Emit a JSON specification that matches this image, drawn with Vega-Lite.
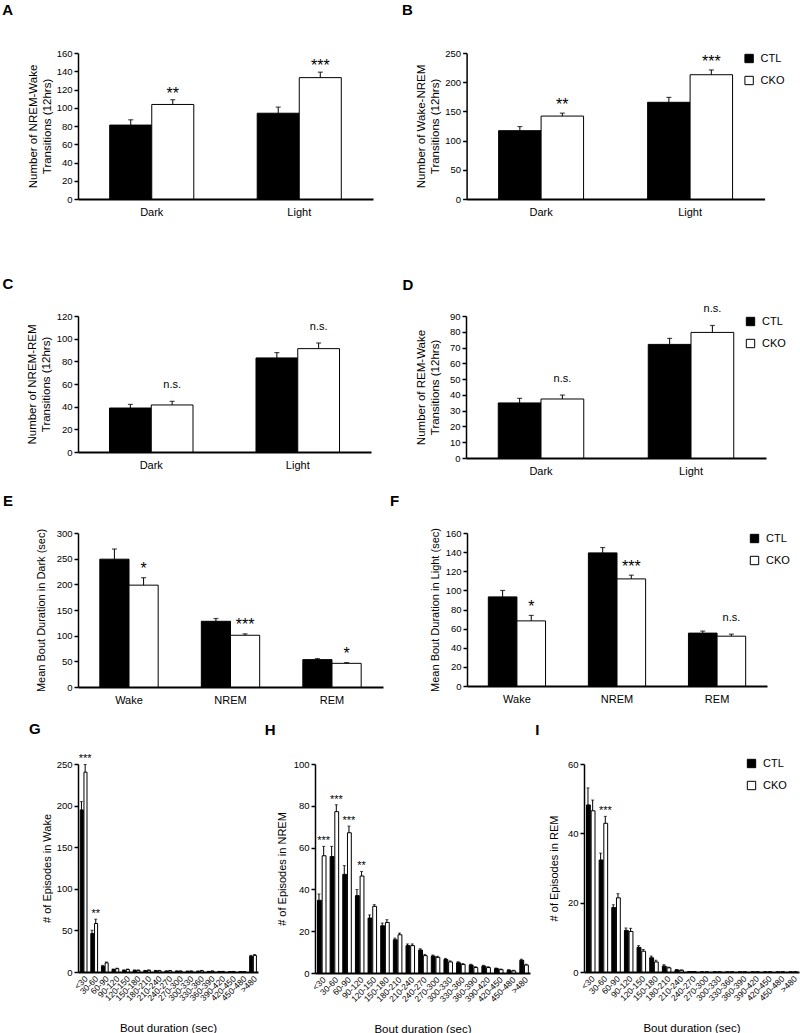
{
  "$schema": "https://vega.github.io/schema/vega-lite/v6.json",
  "background": "white",
  "padding": {"left": 2, "top": 3, "right": 2, "bottom": 0},
  "config": {
    "font": "Liberation Sans",
    "view": {"stroke": null},
    "axis": {"grid": false, "domainColor": "black", "tickColor": "black", "labelColor": "black", "titleColor": "black", "titleFontWeight": "normal", "labelFont": "Liberation Sans", "titleFont": "Liberation Sans"},
    "axisY": {"domainWidth": 1.5, "tickSize": 4, "tickWidth": 1.5, "tickCount": 40, "labelFontSize": 9.5, "labelPadding": 2, "labelOverlap": false, "titleFontSize": 11.5, "titlePadding": 5, "titleLineHeight": 14},
    "axisX": {"domainWidth": 2, "ticks": false, "labelAngle": 0, "labelFontSize": 11, "labelPadding": 7},
    "title": {"anchor": "start", "frame": "bounds", "fontSize": 15, "fontWeight": "bold", "font": "Liberation Sans", "color": "black"},
    "legend": {"orient": "none", "symbolType": "square", "symbolSize": 70, "symbolStrokeColor": "black", "symbolStrokeWidth": 1, "labelFontSize": 11, "rowPadding": 9, "labelOffset": 6, "padding": 0, "labelFont": "Liberation Sans", "labelColor": "black"},
    "bar": {"stroke": "black", "strokeWidth": 1},
    "tick": {"color": "black"},
    "rule": {"color": "black"},
    "text": {"color": "black", "font": "Liberation Sans"}
  },
  "datasets": {
    "A": [
      {"cat": "Dark", "group": "CTL", "value": 81, "hi": 86.8},
      {"cat": "Dark", "group": "CKO", "value": 103.6, "hi": 108.8, "sig": "**"},
      {"cat": "Light", "group": "CTL", "value": 94, "hi": 100.7},
      {"cat": "Light", "group": "CKO", "value": 133, "hi": 139, "sig": "***"}
    ],
    "B": [
      {"cat": "Dark", "group": "CTL", "value": 117, "hi": 124},
      {"cat": "Dark", "group": "CKO", "value": 142, "hi": 147, "sig": "**"},
      {"cat": "Light", "group": "CTL", "value": 165.6, "hi": 174},
      {"cat": "Light", "group": "CKO", "value": 212.8, "hi": 221, "sig": "***"}
    ],
    "C": [
      {"cat": "Dark", "group": "CTL", "value": 38.8, "hi": 42},
      {"cat": "Dark", "group": "CKO", "value": 41.5, "hi": 44.7, "sig": "n.s."},
      {"cat": "Light", "group": "CTL", "value": 83, "hi": 87.7},
      {"cat": "Light", "group": "CKO", "value": 91.2, "hi": 96.2, "sig": "n.s."}
    ],
    "D": [
      {"cat": "Dark", "group": "CTL", "value": 34.9, "hi": 37.8},
      {"cat": "Dark", "group": "CKO", "value": 37.4, "hi": 39.9, "sig": "n.s."},
      {"cat": "Light", "group": "CTL", "value": 72, "hi": 75.8},
      {"cat": "Light", "group": "CKO", "value": 79.6, "hi": 84, "sig": "n.s."}
    ],
    "E": [
      {"cat": "Wake", "group": "CTL", "value": 249, "hi": 268.8},
      {"cat": "Wake", "group": "CKO", "value": 198.4, "hi": 212.9, "sig": "*"},
      {"cat": "NREM", "group": "CTL", "value": 128, "hi": 133.4},
      {"cat": "NREM", "group": "CKO", "value": 100.8, "hi": 103.5, "sig": "***"},
      {"cat": "REM", "group": "CTL", "value": 53.3, "hi": 55.3},
      {"cat": "REM", "group": "CKO", "value": 46.1, "hi": 47.5, "sig": "*"}
    ],
    "F": [
      {"cat": "Wake", "group": "CTL", "value": 93.2, "hi": 99.9},
      {"cat": "Wake", "group": "CKO", "value": 68.1, "hi": 73.8, "sig": "*"},
      {"cat": "NREM", "group": "CTL", "value": 139.2, "hi": 144.8},
      {"cat": "NREM", "group": "CKO", "value": 112, "hi": 115.9, "sig": "***"},
      {"cat": "REM", "group": "CTL", "value": 55.3, "hi": 57.4},
      {"cat": "REM", "group": "CKO", "value": 52.1, "hi": 54.2, "sig": "n.s."}
    ],
    "G": [
      {"cat": "<30", "group": "CTL", "value": 194.8, "hi": 204.8},
      {"cat": "<30", "group": "CKO", "value": 240.2, "hi": 249.4, "sig": "***"},
      {"cat": "30-60", "group": "CTL", "value": 46.3, "hi": 50.2},
      {"cat": "30-60", "group": "CKO", "value": 58.3, "hi": 63.5, "sig": "**"},
      {"cat": "60-90", "group": "CTL", "value": 7, "hi": 8},
      {"cat": "60-90", "group": "CKO", "value": 11, "hi": 12},
      {"cat": "90-120", "group": "CTL", "value": 3, "hi": 3.6},
      {"cat": "90-120", "group": "CKO", "value": 4, "hi": 4.6},
      {"cat": "120-150", "group": "CTL", "value": 2, "hi": 2.5},
      {"cat": "120-150", "group": "CKO", "value": 3, "hi": 3.5},
      {"cat": "150-180", "group": "CTL", "value": 2, "hi": 2.4},
      {"cat": "150-180", "group": "CKO", "value": 2, "hi": 2.4},
      {"cat": "180-210", "group": "CTL", "value": 1.5, "hi": 1.9},
      {"cat": "180-210", "group": "CKO", "value": 2, "hi": 2.5},
      {"cat": "210-240", "group": "CTL", "value": 1.5, "hi": 1.9},
      {"cat": "210-240", "group": "CKO", "value": 1.5, "hi": 1.9},
      {"cat": "240-270", "group": "CTL", "value": 1, "hi": 1.3},
      {"cat": "240-270", "group": "CKO", "value": 1.5, "hi": 1.9},
      {"cat": "270-300", "group": "CTL", "value": 1, "hi": 1.3},
      {"cat": "270-300", "group": "CKO", "value": 1, "hi": 1.3},
      {"cat": "300-330", "group": "CTL", "value": 0.8, "hi": 1.1},
      {"cat": "300-330", "group": "CKO", "value": 1, "hi": 1.3},
      {"cat": "330-360", "group": "CTL", "value": 0.8, "hi": 1.1},
      {"cat": "330-360", "group": "CKO", "value": 1.5, "hi": 1.9},
      {"cat": "360-390", "group": "CTL", "value": 0.5, "hi": 0.8},
      {"cat": "360-390", "group": "CKO", "value": 1, "hi": 1.3},
      {"cat": "390-420", "group": "CTL", "value": 0.5, "hi": 0.8},
      {"cat": "390-420", "group": "CKO", "value": 0.5, "hi": 0.8},
      {"cat": "420-450", "group": "CTL", "value": 0.3, "hi": 0.5},
      {"cat": "420-450", "group": "CKO", "value": 0.5, "hi": 0.7},
      {"cat": "450-480", "group": "CTL", "value": 0.3, "hi": 0.5},
      {"cat": "450-480", "group": "CKO", "value": 0.3, "hi": 0.5},
      {"cat": ">480", "group": "CTL", "value": 19, "hi": 20},
      {"cat": ">480", "group": "CKO", "value": 20, "hi": 21}
    ],
    "H": [
      {"cat": "<30", "group": "CTL", "value": 34.8, "hi": 37.8},
      {"cat": "<30", "group": "CKO", "value": 56.1, "hi": 60.6, "sig": "***"},
      {"cat": "30-60", "group": "CTL", "value": 55.7, "hi": 60.6},
      {"cat": "30-60", "group": "CKO", "value": 77.2, "hi": 80.5, "sig": "***"},
      {"cat": "60-90", "group": "CTL", "value": 47.2, "hi": 51.4},
      {"cat": "60-90", "group": "CKO", "value": 67.1, "hi": 70.3, "sig": "***"},
      {"cat": "90-120", "group": "CTL", "value": 37, "hi": 39.9},
      {"cat": "90-120", "group": "CKO", "value": 46.4, "hi": 48.6, "sig": "**"},
      {"cat": "120-150", "group": "CTL", "value": 26.3, "hi": 27.8},
      {"cat": "120-150", "group": "CKO", "value": 31.9, "hi": 32.7},
      {"cat": "150-180", "group": "CTL", "value": 22.6, "hi": 23.9},
      {"cat": "150-180", "group": "CKO", "value": 24.2, "hi": 25.5},
      {"cat": "180-210", "group": "CTL", "value": 15.9, "hi": 16.7},
      {"cat": "180-210", "group": "CKO", "value": 18.3, "hi": 19.1},
      {"cat": "210-240", "group": "CTL", "value": 13.1, "hi": 13.9},
      {"cat": "210-240", "group": "CKO", "value": 13.1, "hi": 13.9},
      {"cat": "240-270", "group": "CTL", "value": 11, "hi": 11.6},
      {"cat": "240-270", "group": "CKO", "value": 8.3, "hi": 8.9},
      {"cat": "270-300", "group": "CTL", "value": 8.1, "hi": 8.6},
      {"cat": "270-300", "group": "CKO", "value": 7.5, "hi": 8},
      {"cat": "300-330", "group": "CTL", "value": 6.5, "hi": 7},
      {"cat": "300-330", "group": "CKO", "value": 5.3, "hi": 5.8},
      {"cat": "330-360", "group": "CTL", "value": 4.9, "hi": 5.4},
      {"cat": "330-360", "group": "CKO", "value": 4.1, "hi": 4.5},
      {"cat": "360-390", "group": "CTL", "value": 3.8, "hi": 4.2},
      {"cat": "360-390", "group": "CKO", "value": 2.6, "hi": 3},
      {"cat": "390-420", "group": "CTL", "value": 3.3, "hi": 3.7},
      {"cat": "390-420", "group": "CKO", "value": 2.6, "hi": 3},
      {"cat": "420-450", "group": "CTL", "value": 2.1, "hi": 2.4},
      {"cat": "420-450", "group": "CKO", "value": 1.6, "hi": 1.9},
      {"cat": "450-480", "group": "CTL", "value": 1.3, "hi": 1.6},
      {"cat": "450-480", "group": "CKO", "value": 1, "hi": 1.3},
      {"cat": ">480", "group": "CTL", "value": 6.1, "hi": 6.6},
      {"cat": ">480", "group": "CKO", "value": 3.8, "hi": 4.2}
    ],
    "I": [
      {"cat": "<30", "group": "CTL", "value": 48.2, "hi": 53.1},
      {"cat": "<30", "group": "CKO", "value": 46.5, "hi": 49.6},
      {"cat": "30-60", "group": "CTL", "value": 32.3, "hi": 34.3},
      {"cat": "30-60", "group": "CKO", "value": 42.9, "hi": 44.9, "sig": "***"},
      {"cat": "60-90", "group": "CTL", "value": 18.6, "hi": 19.4},
      {"cat": "60-90", "group": "CKO", "value": 21.4, "hi": 22.6},
      {"cat": "90-120", "group": "CTL", "value": 12, "hi": 12.7},
      {"cat": "90-120", "group": "CKO", "value": 11.7, "hi": 12.6},
      {"cat": "120-150", "group": "CTL", "value": 7.1, "hi": 7.6},
      {"cat": "120-150", "group": "CKO", "value": 6, "hi": 6.5},
      {"cat": "150-180", "group": "CTL", "value": 4.1, "hi": 4.6},
      {"cat": "150-180", "group": "CKO", "value": 2.9, "hi": 3.4},
      {"cat": "180-210", "group": "CTL", "value": 1.7, "hi": 2.1},
      {"cat": "180-210", "group": "CKO", "value": 1.2, "hi": 1.4},
      {"cat": "210-240", "group": "CTL", "value": 0.6, "hi": 0.7},
      {"cat": "210-240", "group": "CKO", "value": 0.5, "hi": 0.6},
      {"cat": "240-270", "group": "CTL", "value": 0.1, "hi": 0.15},
      {"cat": "240-270", "group": "CKO", "value": 0.1, "hi": 0.15},
      {"cat": "270-300", "group": "CTL", "value": 0, "hi": 0},
      {"cat": "270-300", "group": "CKO", "value": 0, "hi": 0},
      {"cat": "300-330", "group": "CTL", "value": 0, "hi": 0},
      {"cat": "300-330", "group": "CKO", "value": 0, "hi": 0},
      {"cat": "330-360", "group": "CTL", "value": 0, "hi": 0},
      {"cat": "330-360", "group": "CKO", "value": 0, "hi": 0},
      {"cat": "360-390", "group": "CTL", "value": 0, "hi": 0},
      {"cat": "360-390", "group": "CKO", "value": 0, "hi": 0},
      {"cat": "390-420", "group": "CTL", "value": 0, "hi": 0},
      {"cat": "390-420", "group": "CKO", "value": 0, "hi": 0},
      {"cat": "420-450", "group": "CTL", "value": 0, "hi": 0},
      {"cat": "420-450", "group": "CKO", "value": 0, "hi": 0},
      {"cat": "450-480", "group": "CTL", "value": 0, "hi": 0},
      {"cat": "450-480", "group": "CKO", "value": 0, "hi": 0},
      {"cat": ">480", "group": "CTL", "value": 0, "hi": 0},
      {"cat": ">480", "group": "CKO", "value": 0, "hi": 0}
    ]
  },
  "resolve": {"scale": {"fill": "independent", "xOffset": "independent"}, "legend": {"fill": "independent"}},
  "columns": 1,
  "align": "none",
  "spacing": 60,
  "concat": [
    {
      "resolve": {"scale": {"fill": "independent", "xOffset": "independent"}, "legend": {"fill": "independent"}},
      "spacing": 28.6,
      "hconcat": [
        {
          "width": 295, "height": 146,
          "title": {"text": "A", "offset": 30, "dx": -25},
          "data": {"name": "A"},
          "encoding": {
            "x": {"field": "cat", "type": "nominal", "sort": ["Dark", "Light"], "scale": {"paddingInner": 0.43, "paddingOuter": 0.215}, "axis": {"title": null}},
            "xOffset": {"field": "group", "type": "nominal", "sort": ["CTL", "CKO"]}
          },
          "layer": [
            {"mark": "bar", "encoding": {
              "y": {"field": "value", "type": "quantitative", "scale": {"domain": [0, 160], "nice": false}, "axis": {"values": [0, 20, 40, 60, 80, 100, 120, 140, 160], "title": ["Number of NREM-Wake", "Transitions (12hrs)"], "titlePadding": 4}},
              "fill": {"field": "group", "type": "nominal", "scale": {"domain": ["CTL", "CKO"], "range": ["black", "white"]}, "legend": null}}},
            {"mark": {"type": "rule", "strokeWidth": 1}, "encoding": {"y": {"field": "value", "type": "quantitative"}, "y2": {"field": "hi"}}},
            {"mark": {"type": "tick", "size": 5, "thickness": 1.2}, "encoding": {"y": {"field": "hi", "type": "quantitative"}}},
            {"transform": [{"filter": "datum.sig && datum.sig != 'n.s.'"}], "mark": {"type": "text", "fontSize": 16, "baseline": "alphabetic", "dy": -1}, "encoding": {"y": {"field": "hi", "type": "quantitative"}, "text": {"field": "sig"}}}
          ]
        },
        {
          "width": 298, "height": 146,
          "title": {"text": "B", "offset": 30, "dx": -13},
          "data": {"name": "B"},
          "encoding": {
            "x": {"field": "cat", "type": "nominal", "sort": ["Dark", "Light"], "scale": {"paddingInner": 0.43, "paddingOuter": 0.215}, "axis": {"title": null}},
            "xOffset": {"field": "group", "type": "nominal", "sort": ["CTL", "CKO"]}
          },
          "layer": [
            {"mark": "bar", "encoding": {
              "y": {"field": "value", "type": "quantitative", "scale": {"domain": [0, 250], "nice": false}, "axis": {"values": [0, 50, 100, 150, 200, 250], "title": ["Number of Wake-NREM", "Transitions (12hrs)"], "titlePadding": 4.65}},
              "fill": {"field": "group", "type": "nominal", "sort": ["CTL", "CKO"], "scale": {"domain": ["CTL", "CKO"], "range": ["black", "white"]}, "legend": {"title": null, "orient": "none", "legendX": 277, "legendY": 0}}}},
            {"mark": {"type": "rule", "strokeWidth": 1}, "encoding": {"y": {"field": "value", "type": "quantitative"}, "y2": {"field": "hi"}}},
            {"mark": {"type": "tick", "size": 5, "thickness": 1.2}, "encoding": {"y": {"field": "hi", "type": "quantitative"}}},
            {"transform": [{"filter": "datum.sig && datum.sig != 'n.s.'"}], "mark": {"type": "text", "fontSize": 16, "baseline": "alphabetic", "dy": -3}, "encoding": {"y": {"field": "hi", "type": "quantitative"}, "text": {"field": "sig"}}}
          ]
        }
      ]
    },
    {
      "resolve": {"scale": {"fill": "independent", "xOffset": "independent"}, "legend": {"fill": "independent"}},
      "columns": 1,
      "align": "none",
      "spacing": 16,
      "concat": [
        {
          "resolve": {"scale": {"fill": "independent", "xOffset": "independent"}, "legend": {"fill": "independent"}},
          "columns": 1,
          "align": "none",
          "spacing": 17,
          "concat": [
            {
              "resolve": {"scale": {"fill": "independent", "xOffset": "independent"}, "legend": {"fill": "independent"}},
              "spacing": 31,
              "hconcat": [
                {
                  "width": 293, "height": 136,
                  "title": {"text": "C", "offset": 19, "dx": -24},
                  "data": {"name": "C"},
                  "encoding": {
                    "x": {"field": "cat", "type": "nominal", "sort": ["Dark", "Light"], "scale": {"paddingInner": 0.43, "paddingOuter": 0.215}, "axis": {"title": null}},
                    "xOffset": {"field": "group", "type": "nominal", "sort": ["CTL", "CKO"]}
                  },
                  "layer": [
                    {"mark": "bar", "encoding": {
                      "y": {"field": "value", "type": "quantitative", "scale": {"domain": [0, 120], "nice": false}, "axis": {"values": [0, 20, 40, 60, 80, 100, 120], "title": ["Number of NREM-REM", "Transitions (12hrs)"], "titlePadding": 4.65}},
                      "fill": {"field": "group", "type": "nominal", "scale": {"domain": ["CTL", "CKO"], "range": ["black", "white"]}, "legend": null}}},
                    {"mark": {"type": "rule", "strokeWidth": 1}, "encoding": {"y": {"field": "value", "type": "quantitative"}, "y2": {"field": "hi"}}},
                    {"mark": {"type": "tick", "size": 5, "thickness": 1.2}, "encoding": {"y": {"field": "hi", "type": "quantitative"}}},
                    {"transform": [{"filter": "datum.sig == 'n.s.'"}], "mark": {"type": "text", "fontSize": 11, "baseline": "alphabetic", "dy": -13}, "encoding": {"y": {"field": "hi", "type": "quantitative"}, "text": {"field": "sig"}}}
                  ]
                },
                {
                  "width": 300, "height": 142,
                  "title": {"text": "D", "offset": 10.5, "dx": -13},
                  "data": {"name": "D"},
                  "encoding": {
                    "x": {"field": "cat", "type": "nominal", "sort": ["Dark", "Light"], "scale": {"paddingInner": 0.43, "paddingOuter": 0.215}, "axis": {"title": null}},
                    "xOffset": {"field": "group", "type": "nominal", "sort": ["CTL", "CKO"]}
                  },
                  "layer": [
                    {"mark": "bar", "encoding": {
                      "y": {"field": "value", "type": "quantitative", "scale": {"domain": [0, 90], "nice": false}, "axis": {"values": [0, 10, 20, 30, 40, 50, 60, 70, 80, 90], "title": ["Number of REM-Wake", "Transitions (12hrs)"], "titlePadding": 8.9}},
                      "fill": {"field": "group", "type": "nominal", "sort": ["CTL", "CKO"], "scale": {"domain": ["CTL", "CKO"], "range": ["black", "white"]}, "legend": {"title": null, "orient": "none", "legendX": 279, "legendY": 0}}}},
                    {"mark": {"type": "rule", "strokeWidth": 1}, "encoding": {"y": {"field": "value", "type": "quantitative"}, "y2": {"field": "hi"}}},
                    {"mark": {"type": "tick", "size": 5, "thickness": 1.2}, "encoding": {"y": {"field": "hi", "type": "quantitative"}}},
                    {"transform": [{"filter": "datum.sig == 'n.s.'"}], "mark": {"type": "text", "fontSize": 11, "baseline": "alphabetic", "dy": -13}, "encoding": {"y": {"field": "hi", "type": "quantitative"}, "text": {"field": "sig"}}}
                  ]
                }
              ]
            },
            {
              "resolve": {"scale": {"fill": "independent", "xOffset": "independent"}, "legend": {"fill": "independent"}},
              "spacing": 6,
              "hconcat": [
                {
                  "width": 305, "height": 154,
                  "title": {"text": "E", "offset": 19, "dx": -33},
                  "data": {"name": "E"},
                  "encoding": {
                    "x": {"field": "cat", "type": "nominal", "sort": ["Wake", "NREM", "REM"], "scale": {"paddingInner": 0.425, "paddingOuter": 0.215}, "axis": {"title": null}},
                    "xOffset": {"field": "group", "type": "nominal", "sort": ["CTL", "CKO"]}
                  },
                  "layer": [
                    {"mark": "bar", "encoding": {
                      "y": {"field": "value", "type": "quantitative", "scale": {"domain": [0, 300], "nice": false}, "axis": {"values": [0, 50, 100, 150, 200, 250, 300], "title": "Mean Bout Duration in Dark (sec)", "titleFontSize": 11, "titlePadding": 9.15}},
                      "fill": {"field": "group", "type": "nominal", "scale": {"domain": ["CTL", "CKO"], "range": ["black", "white"]}, "legend": null}}},
                    {"mark": {"type": "rule", "strokeWidth": 1}, "encoding": {"y": {"field": "value", "type": "quantitative"}, "y2": {"field": "hi"}}},
                    {"mark": {"type": "tick", "size": 5, "thickness": 1.2}, "encoding": {"y": {"field": "hi", "type": "quantitative"}}},
                    {"transform": [{"filter": "datum.sig && datum.sig != 'n.s.'"}], "mark": {"type": "text", "fontSize": 16, "baseline": "alphabetic", "dy": -4}, "encoding": {"y": {"field": "hi", "type": "quantitative"}, "text": {"field": "sig"}}}
                  ]
                },
                {
                  "width": 300, "height": 153,
                  "title": {"text": "F", "offset": 19, "dx": -40},
                  "data": {"name": "F"},
                  "encoding": {
                    "x": {"field": "cat", "type": "nominal", "sort": ["Wake", "NREM", "REM"], "scale": {"paddingInner": 0.428, "paddingOuter": 0.213}, "axis": {"title": null}},
                    "xOffset": {"field": "group", "type": "nominal", "sort": ["CTL", "CKO"]}
                  },
                  "layer": [
                    {"mark": "bar", "encoding": {
                      "y": {"field": "value", "type": "quantitative", "scale": {"domain": [0, 160], "nice": false}, "axis": {"values": [0, 20, 40, 60, 80, 100, 120, 140, 160], "title": "Mean Bout Duration in Light (sec)", "titleFontSize": 11, "titlePadding": 4.15}},
                      "fill": {"field": "group", "type": "nominal", "sort": ["CTL", "CKO"], "scale": {"domain": ["CTL", "CKO"], "range": ["black", "white"]}, "legend": {"title": null, "orient": "none", "legendX": 282, "legendY": 0}}}},
                    {"mark": {"type": "rule", "strokeWidth": 1}, "encoding": {"y": {"field": "value", "type": "quantitative"}, "y2": {"field": "hi"}}},
                    {"mark": {"type": "tick", "size": 5, "thickness": 1.2}, "encoding": {"y": {"field": "hi", "type": "quantitative"}}},
                    {"transform": [{"filter": "datum.sig && datum.sig != 'n.s.'"}], "mark": {"type": "text", "fontSize": 16, "baseline": "alphabetic", "dy": -3}, "encoding": {"y": {"field": "hi", "type": "quantitative"}, "text": {"field": "sig"}}},
                    {"transform": [{"filter": "datum.sig == 'n.s.'"}], "mark": {"type": "text", "fontSize": 11, "baseline": "alphabetic", "dy": -13}, "encoding": {"y": {"field": "hi", "type": "quantitative"}, "text": {"field": "sig"}}}
                  ]
                }
              ]
            }
          ]
        },
        {
          "resolve": {"scale": {"fill": "independent", "xOffset": "independent"}, "legend": {"fill": "independent"}},
          "spacing": 5,
          "hconcat": [
            {
              "width": 180, "height": 208,
              "title": {"text": "G", "offset": 16.5, "dx": -12.5},
              "data": {"name": "G"},
              "encoding": {
                "x": {"field": "cat", "type": "nominal", "sort": ["<30", "30-60", "60-90", "90-120", "120-150", "150-180", "180-210", "210-240", "240-270", "270-300", "300-330", "330-360", "360-390", "390-420", "420-450", "450-480", ">480"], "scale": {"paddingInner": 0.3, "paddingOuter": 0.15}, "axis": {"title": "Bout duration (sec)", "labelAngle": -45, "labelFontSize": 8.5, "labelPadding": 2, "titleFontSize": 11.5, "titlePadding": 20}},
                "xOffset": {"field": "group", "type": "nominal", "sort": ["CTL", "CKO"]}
              },
              "layer": [
                {"mark": {"type": "bar", "width": {"band": 0.82}}, "encoding": {
                  "y": {"field": "value", "type": "quantitative", "scale": {"domain": [0, 250], "nice": false}, "axis": {"values": [0, 50, 100, 150, 200, 250], "title": "# of Episodes in Wake", "titleFontSize": 11, "titlePadding": 3.65}},
                  "fill": {"field": "group", "type": "nominal", "scale": {"domain": ["CTL", "CKO"], "range": ["black", "white"]}, "legend": null}}},
                {"mark": {"type": "rule", "strokeWidth": 1}, "encoding": {"y": {"field": "value", "type": "quantitative"}, "y2": {"field": "hi"}}},
                {"mark": {"type": "tick", "size": 3, "thickness": 1}, "encoding": {"y": {"field": "hi", "type": "quantitative"}}},
                {"transform": [{"filter": "datum.sig && datum.sig != 'n.s.'"}], "mark": {"type": "text", "fontSize": 11, "baseline": "alphabetic", "dy": -2}, "encoding": {"y": {"field": "hi", "type": "quantitative"}, "text": {"field": "sig"}}}
              ]
            },
            {
              "width": 215, "height": 209,
              "title": {"text": "H", "offset": 21, "dx": -11.5},
              "data": {"name": "H"},
              "encoding": {
                "x": {"field": "cat", "type": "nominal", "sort": ["<30", "30-60", "60-90", "90-120", "120-150", "150-180", "180-210", "210-240", "240-270", "270-300", "300-330", "330-360", "360-390", "390-420", "420-450", "450-480", ">480"], "scale": {"paddingInner": 0.26, "paddingOuter": 0.13}, "axis": {"title": "Bout duration (sec)", "labelAngle": -45, "labelFontSize": 8.5, "labelPadding": 2, "titleFontSize": 11.5, "titlePadding": 20}},
                "xOffset": {"field": "group", "type": "nominal", "sort": ["CTL", "CKO"]}
              },
              "layer": [
                {"mark": {"type": "bar", "width": {"band": 0.82}}, "encoding": {
                  "y": {"field": "value", "type": "quantitative", "scale": {"domain": [0, 100], "nice": false}, "axis": {"values": [0, 20, 40, 60, 80, 100], "title": "# of Episodes in  NREM", "titleFontSize": 11, "titlePadding": 5.95}},
                  "fill": {"field": "group", "type": "nominal", "scale": {"domain": ["CTL", "CKO"], "range": ["black", "white"]}, "legend": null}}},
                {"mark": {"type": "rule", "strokeWidth": 1}, "encoding": {"y": {"field": "value", "type": "quantitative"}, "y2": {"field": "hi"}}},
                {"mark": {"type": "tick", "size": 3, "thickness": 1}, "encoding": {"y": {"field": "hi", "type": "quantitative"}}},
                {"transform": [{"filter": "datum.sig && datum.sig != 'n.s.'"}], "mark": {"type": "text", "fontSize": 11, "baseline": "alphabetic", "dy": -2}, "encoding": {"y": {"field": "hi", "type": "quantitative"}, "text": {"field": "sig"}}}
              ]
            },
            {
              "width": 215, "height": 208,
              "title": {"text": "I", "offset": 20, "dx": -13},
              "data": {"name": "I"},
              "encoding": {
                "x": {"field": "cat", "type": "nominal", "sort": ["<30", "30-60", "60-90", "90-120", "120-150", "150-180", "180-210", "210-240", "240-270", "270-300", "300-330", "330-360", "360-390", "390-420", "420-450", "450-480", ">480"], "scale": {"paddingInner": 0.26, "paddingOuter": 0.13}, "axis": {"title": "Bout duration (sec)", "labelAngle": -45, "labelFontSize": 8.5, "labelPadding": 2, "titleFontSize": 11.5, "titlePadding": 20}},
                "xOffset": {"field": "group", "type": "nominal", "sort": ["CTL", "CKO"]}
              },
              "layer": [
                {"mark": {"type": "bar", "width": {"band": 0.82}}, "encoding": {
                  "y": {"field": "value", "type": "quantitative", "scale": {"domain": [0, 60], "nice": false}, "axis": {"values": [0, 20, 40, 60], "title": "# of Episodes in  REM", "titleFontSize": 11, "titlePadding": 8.1}},
                  "fill": {"field": "group", "type": "nominal", "sort": ["CTL", "CKO"], "scale": {"domain": ["CTL", "CKO"], "range": ["black", "white"]}, "legend": {"title": null, "orient": "none", "legendX": 162, "legendY": -6}}}},
                {"mark": {"type": "rule", "strokeWidth": 1}, "encoding": {"y": {"field": "value", "type": "quantitative"}, "y2": {"field": "hi"}}},
                {"mark": {"type": "tick", "size": 3, "thickness": 1}, "encoding": {"y": {"field": "hi", "type": "quantitative"}}},
                {"transform": [{"filter": "datum.sig && datum.sig != 'n.s.'"}], "mark": {"type": "text", "fontSize": 11, "baseline": "alphabetic", "dy": -2}, "encoding": {"y": {"field": "hi", "type": "quantitative"}, "text": {"field": "sig"}}}
              ]
            }
          ]
        }
      ]
    }
  ]
}
